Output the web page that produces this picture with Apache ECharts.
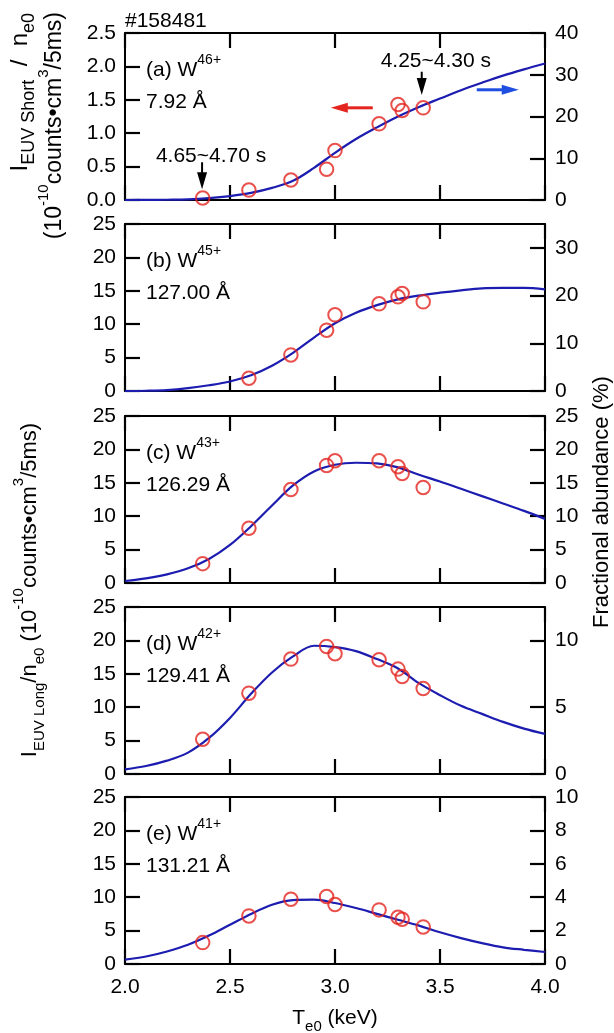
<!DOCTYPE html>
<html>
<head>
<meta charset="utf-8">
<script src="https://cdn.jsdelivr.net/npm/echarts@6/dist/echarts.min.js"></script>
<style>
html,body{margin:0;padding:0;background:#fff;}
#chart{width:614px;height:1033px;}
</style>
</head>
<body>
<div id="chart"></div>
<script>
// ---------- data ----------
const Te = [2.37, 2.59, 2.79, 2.96, 3.00, 3.21, 3.30, 3.32, 3.42];
const measA = [0.03, 0.15, 0.30, 0.46, 0.74, 1.14, 1.43, 1.34, 1.38];
const measB = [null, 1.9, 5.4, 9.1, 11.4, 13.05, 14.1, 14.6, 13.35];
const measC = [2.9, 8.2, 14.0, 17.6, 18.3, 18.3, 17.4, 16.4, 14.3];
const measD = [5.2, 12.1, 17.2, 19.1, 18.0, 17.1, 15.7, 14.6, 12.8];
const measE = [3.2, 7.2, 9.7, 10.1, 8.9, 8.1, 7.0, 6.7, 5.55];

const Tcurve = [2.0, 2.1, 2.2, 2.3, 2.4, 2.5, 2.6, 2.7, 2.8, 2.9, 3.0, 3.1, 3.2, 3.3, 3.4, 3.5, 3.6, 3.7, 3.8, 3.9, 4.0];
const fracA = [0, 0.02, 0.06, 0.15, 0.45, 0.95, 1.7, 2.9, 4.6, 7.7, 11.3, 14.6, 17.4, 20.0, 22.3, 24.3, 26.3, 28.1, 29.8, 31.3, 32.7];
const fracB = [0, 0.05, 0.2, 0.6, 1.2, 2.0, 3.3, 5.3, 8.0, 11.2, 14.2, 16.4, 18.0, 19.2, 20.0, 20.6, 21.1, 21.5, 21.6, 21.6, 21.3];
const fracC = [0.3, 0.7, 1.3, 2.2, 3.6, 5.7, 8.5, 11.6, 14.6, 16.7, 17.7, 18.0, 17.9, 17.3, 16.2, 15.2, 14.1, 13.0, 11.9, 10.8, 9.6];
const fracD = [0.35, 0.6, 1.0, 1.6, 2.7, 4.2, 6.0, 7.6, 8.8, 9.6, 9.5, 9.2, 8.6, 7.9, 6.8, 5.9, 5.1, 4.5, 3.9, 3.4, 3.0];
const fracE = [0.26, 0.45, 0.75, 1.15, 1.7, 2.35, 3.0, 3.55, 3.83, 3.85, 3.65, 3.35, 3.0, 2.65, 2.3, 1.9, 1.55, 1.25, 1.0, 0.85, 0.72];

const xMin = 2, xMax = 4, xInterval = 0.5;
const leftMax = [2.5, 25, 25, 25, 25];
const leftInterval = [0.5, 5, 5, 5, 5];
const rightMax = [40, 35, 25, 12.5, 10];
const rightInterval = [10, 10, 5, 5, 2];

const ionLabels = ['(a) W', '(b) W', '(c) W', '(d) W', '(e) W'];
const ionCharges = ['46+', '45+', '43+', '42+', '41+'];
const wavelengths = ['7.92 Å', '127.00 Å', '126.29 Å', '129.41 Å', '131.21 Å'];

const shotLabel = '#158481';
const timeLabels = ['4.65~4.70 s', '4.25~4.30 s'];
// annotation anchors in panel (a) data coords [Te, left-axis value]
const timeLabelPos = [[2.41, 0.655], [3.48, 2.08]];
const blackArrows = [[2.367, 0.565, 0.16], [3.413, 1.92, 1.57]]; // x, top, tip
const redArrow = [2.98, 3.18, 1.38];    // tip x, tail x, y
const blueArrow = [3.875, 3.675, 1.65]; // tip x, tail x, y

// ---------- layout ----------
const FONT = "'Liberation Sans', Arial, sans-serif";
const gridTops = [33, 224, 416, 607, 797];
const gridH = 167;
const gridLeft = 125, gridWidth = 420;
const RED = '#e3241f', BLUE = '#1c1cb0';
const TICK = 15;

const meas = [measA, measB, measC, measD, measE];
const fracs = [fracA, fracB, fracC, fracD, fracE];

const grids = [], xAxes = [], yAxes = [], series = [];
for (let i = 0; i < 5; i++) {
  grids.push({left: gridLeft, width: gridWidth, top: gridTops[i], height: gridH});
}
const axisLine = () => ({show: true, onZero: false, lineStyle: {color: '#000', width: 2}});
const tickIn = () => ({show: true, inside: true, length: TICK, lineStyle: {color: '#000', width: 2.2}});
for (let i = 0; i < 5; i++) {
  xAxes.push({
    gridIndex: i, type: 'value', min: xMin, max: xMax, interval: xInterval, position: 'bottom',
    axisLine: axisLine(), axisTick: tickIn(), splitLine: {show: false},
    axisLabel: {show: i === 4, fontSize: 21, fontFamily: FONT, color: '#000', margin: 13,
      formatter: v => v.toFixed(1)}
  });
}
for (let i = 0; i < 5; i++) {
  xAxes.push({
    gridIndex: i, type: 'value', min: xMin, max: xMax, interval: xInterval, position: 'top',
    axisLine: axisLine(), axisTick: tickIn(), splitLine: {show: false}, axisLabel: {show: false}
  });
}
for (let i = 0; i < 5; i++) {
  yAxes.push({
    gridIndex: i, type: 'value', min: 0, max: leftMax[i], interval: leftInterval[i], position: 'left',
    axisLine: axisLine(), axisTick: tickIn(), splitLine: {show: false},
    axisLabel: {fontSize: 21, fontFamily: FONT, color: '#000', margin: 9,
      formatter: v => (i === 0 ? v.toFixed(1) : String(v))}
  });
}
for (let i = 0; i < 5; i++) {
  yAxes.push({
    gridIndex: i, type: 'value', min: 0, max: rightMax[i], interval: rightInterval[i], position: 'right',
    axisLine: axisLine(), axisTick: tickIn(), splitLine: {show: false},
    axisLabel: {fontSize: 21, fontFamily: FONT, color: '#000', margin: 10,
      showMaxLabel: !(i === 1 || i === 3), formatter: v => String(v)}
  });
}
for (let i = 0; i < 5; i++) {
  series.push({
    type: 'line', xAxisIndex: i, yAxisIndex: 5 + i,
    data: Tcurve.map((t, k) => [t, fracs[i][k]]),
    smooth: 0.35, showSymbol: false, symbol: 'none',
    lineStyle: {color: BLUE, width: 2.2}, z: 2, animation: false
  });
  series.push({
    type: 'scatter', xAxisIndex: i, yAxisIndex: i,
    data: Te.map((t, k) => [t, meas[i][k]]).filter(d => d[1] !== null),
    symbol: 'circle', symbolSize: 13.5,
    itemStyle: {color: 'rgba(255,255,255,0)', borderColor: RED, borderWidth: 2},
    z: 3, animation: false
  });
}

const chart = echarts.init(document.getElementById('chart'), null, {renderer: 'canvas'});
chart.setOption({
  animation: false, backgroundColor: '#fff',
  grid: grids, xAxis: xAxes, yAxis: yAxes, series
});

// ---------- text & annotations ----------
const base = {fontFamily: FONT, color: '#000', fill: '#000', verticalAlign: 'bottom'};
function richSet(mainSize, subSize, mainPad, supRaise) {
  return {
    m: Object.assign({}, base, {fontSize: mainSize, padding: [0, 0, mainPad, 0]}),
    sub: Object.assign({}, base, {fontSize: subSize, padding: [0, 0, 0, 0]}),
    sup: Object.assign({}, base, {fontSize: subSize, padding: [0, 0, mainPad + supRaise, 0]})
  };
}
function txt(x, y, text, align, vAlign, rot, opt) {
  opt = opt || {};
  const ms = opt.main || 21, ss = opt.sub || 14;
  return {
    type: 'text', x, y, rotation: rot || 0, z: 100,
    style: {text, rich: richSet(ms, ss, opt.pad || 0, opt.raise || 14), fill: '#000', font: ms + 'px ' + FONT,
      align, verticalAlign: vAlign, textAlign: align, textVerticalAlign: vAlign}
  };
}
const gfx = [];
const px = (x, y) => chart.convertToPixel({xAxisIndex: 0, yAxisIndex: 0}, [x, y]);
gfx.push(txt(gridLeft, 21, '{m|' + shotLabel + '}', 'left', 'middle'));
for (let i = 0; i < 5; i++) {
  gfx.push(txt(gridLeft + 21, gridTops[i] + 48, '{m|' + ionLabels[i] + '}{sup|' + ionCharges[i] + '}', 'left', 'bottom'));
  gfx.push(txt(gridLeft + 21, gridTops[i] + 69, '{m|' + wavelengths[i] + '}', 'left', 'middle'));
}
timeLabelPos.forEach((p, k) => {
  const q = px(p[0], p[1]);
  gfx.push(txt(q[0], q[1], '{m|' + timeLabels[k] + '}', 'center', 'middle'));
});
blackArrows.forEach(a => {
  const top = px(a[0], a[1]), tip = px(a[0], a[2]);
  const headLen = 17, hw = 5;
  gfx.push({type: 'line', z: 100, shape: {x1: top[0], y1: top[1], x2: tip[0], y2: tip[1] - headLen + 2},
    style: {stroke: '#000', lineWidth: 2}});
  gfx.push({type: 'polygon', z: 100, shape: {points: [[tip[0] - hw, tip[1] - headLen], [tip[0] + hw, tip[1] - headLen], [tip[0], tip[1]]]},
    style: {fill: '#000'}});
});
function hArrow(a, color) {
  const tip = px(a[0], a[2]), tail = px(a[1], a[2]);
  const dir = tail[0] > tip[0] ? 1 : -1;
  const headLen = 17, hw = 5;
  gfx.push({type: 'line', z: 100, shape: {x1: tail[0], y1: tail[1], x2: tip[0] + dir * (headLen - 2), y2: tip[1]},
    style: {stroke: color, lineWidth: 3}});
  gfx.push({type: 'polygon', z: 100, shape: {points: [[tip[0] + dir * headLen, tip[1] - hw], [tip[0] + dir * headLen, tip[1] + hw], [tip[0], tip[1]]]},
    style: {fill: color}});
}
hArrow(redArrow, RED);
hArrow(blueArrow, '#1f4fe0');

// axis titles
const R = Math.PI / 2;
gfx.push(txt(23, 13, '{m|I}{sub|EUV Short}{m|  /  n}{sub|e0}', 'right', 'middle', R, {main: 24, sub: 18, pad: 6}));
gfx.push(txt(51, 12, '{m|(10}{sup|-10}{m|counts•cm}{sup|3}{m|/5ms)}', 'right', 'middle', R, {main: 23, sub: 15, raise: 15}));
gfx.push(txt(29, 590, '{m|I}{sub|EUV Long}{m|/n}{sub|e0}{m| (10}{sup|-10}{m|counts•cm}{sup|3}{m|/5ms)}', 'center', 'middle', R, {main: 22, sub: 15, pad: 6, raise: 15}));
gfx.push(txt(602, 628, '{m|Fractional abundance (%)}', 'left', 'middle', R, {main: 22}));
gfx.push(txt(gridLeft + gridWidth / 2, 1021, '{m|T}{sub|e0}{m| (keV)}', 'center', 'middle', 0, {main: 21, sub: 15, pad: 5}));

chart.setOption({graphic: gfx});
</script>
</body>
</html>
